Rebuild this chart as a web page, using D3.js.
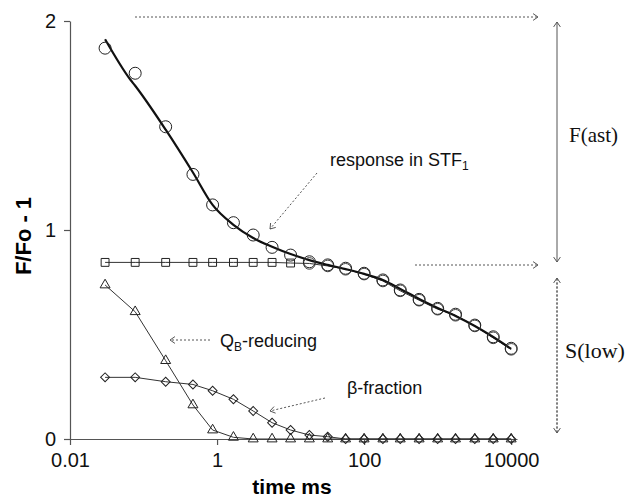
<!DOCTYPE html>
<html>
<head>
<meta charset="utf-8">
<script src="https://cdn.jsdelivr.net/npm/d3@7"></script>
<style>
  body { margin: 0; background: #fff; }
  svg { display: block; }
</style>
</head>
<body>
<svg id="chart" width="627" height="497"></svg>
<script>
"use strict";

// times (ms) shared by every measured series
var times = [0.03, 0.077, 0.2, 0.47, 0.87, 1.67, 3.1, 5.6, 10, 18, 32, 56, 100, 180, 310, 560, 1000, 1750, 3200, 5700, 10000];

// total response (circles)
var total = [1.87, 1.75, 1.494, 1.266, 1.12, 1.035, 0.976, 0.917, 0.88, 0.848, 0.833, 0.817, 0.793, 0.761, 0.713, 0.668, 0.625, 0.597, 0.545, 0.489, 0.434];
// fitted curve through the total response (thick line)
var fitTimes = [0.03, 0.066, 0.077, 0.2, 0.47, 0.87, 1.67, 3.1, 5.6, 10, 18, 32, 56, 100, 180, 310, 560, 1000, 1750, 3200, 5700, 10000];
var fit = [1.913, 1.72, 1.69, 1.48, 1.275, 1.12, 1.025, 0.962, 0.92, 0.885, 0.856, 0.833, 0.813, 0.79, 0.761, 0.718, 0.67, 0.627, 0.589, 0.541, 0.488, 0.431];
// slow component (squares, then hidden under the circles)
var slow = [0.845, 0.845, 0.845, 0.845, 0.845, 0.845, 0.845, 0.845, 0.842, 0.84, 0.828, 0.812, 0.789, 0.756, 0.709, 0.664, 0.621, 0.592, 0.541, 0.484, 0.429];
// QB-reducing (triangles)
var qbReducing = [0.737, 0.609, 0.375, 0.163, 0.043, 0.008, 0, 0, 0, 0, 0, 0, 0, 0, 0, 0, 0, 0, 0, 0, 0];
// beta-fraction (diamonds)
var betaFraction = [0.295, 0.295, 0.274, 0.261, 0.231, 0.19, 0.134, 0.078, 0.043, 0.019, 0.011, 0, 0, 0, 0, 0, 0, 0, 0, 0, 0];

var xTicks = [0.01, 1, 100, 10000];
var yTicks = [0, 1, 2];

var svg = d3.select("#chart");

var x = d3.scaleLog().domain([0.01, 12000]).range([70, 517]);
var y = d3.scaleLinear().domain([0, 2]).range([439, 21]);

// axes
var xAxis = svg.append("g")
    .attr("transform", "translate(0," + y(0) + ")")
    .call(d3.axisBottom(x).tickValues(xTicks).tickSize(6).tickSizeOuter(0).tickPadding(8)
      .tickFormat(function(d) { return d < 1 ? d3.format(".2f")(d) : d3.format("d")(d); }));
var yAxis = svg.append("g")
    .attr("transform", "translate(" + x(0.01) + ",0)")
    .call(d3.axisLeft(y).tickValues(yTicks).tickSize(6).tickSizeOuter(0).tickPadding(8)
      .tickFormat(d3.format("d")));

[xAxis, yAxis].forEach(function(g) {
  g.selectAll("path, line").attr("stroke", "#555").attr("stroke-width", 1.2);
  g.selectAll("text")
    .attr("font-family", "Liberation Sans, Arial, sans-serif")
    .attr("font-size", 20)
    .attr("fill", "#111");
});

svg.append("text")
    .attr("x", 292).attr("y", 494)
    .attr("text-anchor", "middle")
    .attr("font-family", "Liberation Sans, Arial, sans-serif")
    .attr("font-weight", "bold")
    .attr("font-size", 21)
    .text("time ms");

svg.append("text")
    .attr("transform", "translate(31,236) rotate(-90)")
    .attr("text-anchor", "middle")
    .attr("font-family", "Liberation Sans, Arial, sans-serif")
    .attr("font-weight", "bold")
    .attr("font-size", 22)
    .text("F/Fo - 1");

// series lines
function thinLine(values, ts) {
  var pts = d3.zip(ts || times, values);
  svg.append("path")
    .datum(pts)
    .attr("fill", "none")
    .attr("stroke", "#333")
    .attr("stroke-width", 1)
    .attr("d", d3.line().x(function(d) { return x(d[0]); }).y(function(d) { return y(d[1]); }));
}
thinLine(slow);
thinLine(qbReducing);
thinLine(betaFraction);

svg.append("path")
    .datum(d3.zip(fitTimes, fit))
    .attr("fill", "none")
    .attr("stroke", "#111")
    .attr("stroke-width", 2.2)
    .attr("d", d3.line().curve(d3.curveMonotoneX)
      .x(function(d) { return x(d[0]); }).y(function(d) { return y(d[1]); }));

// markers
function markers(values, symbolType, size, rotate) {
  svg.append("g").selectAll("path")
    .data(d3.zip(times, values))
    .enter()
    .append("path")
      .attr("transform", function(d) {
        return "translate(" + x(d[0]) + "," + y(d[1]) + ")" + (rotate ? " rotate(45)" : "");
      })
      .attr("d", d3.symbol().type(symbolType).size(size))
      .attr("fill", "none")
      .attr("stroke", "#222")
      .attr("stroke-width", 1);
}
markers(qbReducing, d3.symbolTriangle, 43);
markers(betaFraction, d3.symbolSquare, 40, true);
markers(slow.slice(0, 9), d3.symbolSquare, 62);

svg.append("g").selectAll("circle")
    .data(d3.zip(times, slow).slice(9))
    .enter()
    .append("circle")
      .attr("cx", function(d) { return x(d[0]); })
      .attr("cy", function(d) { return y(d[1]); })
      .attr("r", 5.8)
      .attr("fill", "none")
      .attr("stroke", "#444")
      .attr("stroke-width", 1);

svg.append("g").selectAll("circle")
    .data(d3.zip(times, total))
    .enter()
    .append("circle")
      .attr("cx", function(d) { return x(d[0]); })
      .attr("cy", function(d) { return y(d[1]); })
      .attr("r", 6)
      .attr("fill", "none")
      .attr("stroke", "#222")
      .attr("stroke-width", 1);

// annotation arrows (dotted, open heads)
function arrow(x1, y1, x2, y2) {
  svg.append("line")
    .attr("x1", x1).attr("y1", y1).attr("x2", x2).attr("y2", y2)
    .attr("stroke", "#555").attr("stroke-width", 1)
    .attr("stroke-dasharray", "2,2");
  var a = Math.atan2(y2 - y1, x2 - x1);
  var len = 6, spread = 0.6;
  [a + Math.PI - spread, a + Math.PI + spread].forEach(function(b) {
    svg.append("line")
      .attr("x1", x2).attr("y1", y2)
      .attr("x2", x2 + len * Math.cos(b)).attr("y2", y2 + len * Math.sin(b))
      .attr("stroke", "#555").attr("stroke-width", 1);
  });
}
arrow(135, 17, 538, 17);
arrow(415, 265, 538, 265);
arrow(557, 262, 557, 22);
arrow(557, 22, 557, 262);
arrow(557, 433, 557, 278);
arrow(557, 278, 557, 433);
arrow(317, 173, 270, 229);
arrow(210, 340, 170, 340);
arrow(325, 398, 270, 411);

// labels
var sans = "Liberation Sans, Arial, sans-serif";
var t1 = svg.append("text").attr("x", 330).attr("y", 166)
    .attr("font-family", sans).attr("font-size", 18).attr("fill", "#111");
t1.append("tspan").text("response in STF");
t1.append("tspan").attr("font-size", 12).attr("dy", 4).text("1");

var t2 = svg.append("text").attr("x", 220).attr("y", 347)
    .attr("font-family", sans).attr("font-size", 18).attr("fill", "#111");
t2.append("tspan").text("Q");
t2.append("tspan").attr("font-size", 12).attr("dy", 4).text("B");
t2.append("tspan").attr("dy", -4).text("-reducing");

svg.append("text").attr("x", 347).attr("y", 394)
    .attr("font-family", sans).attr("font-size", 18).attr("fill", "#111")
    .text("β-fraction");

var serif = "Liberation Serif, Times New Roman, serif";
svg.append("text").attr("x", 569).attr("y", 142)
    .attr("font-family", serif).attr("font-size", 21).attr("fill", "#111")
    .text("F(ast)");
svg.append("text").attr("x", 565).attr("y", 358)
    .attr("font-family", serif).attr("font-size", 22).attr("fill", "#111")
    .text("S(low)");
</script>
</body>
</html>
